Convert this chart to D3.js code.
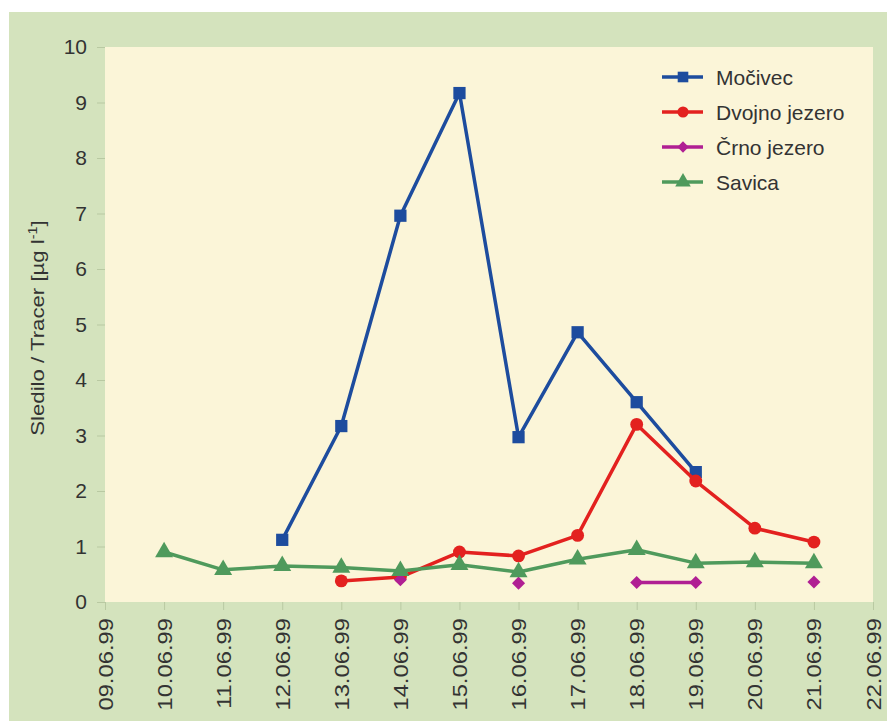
<!DOCTYPE html>
<html><head><meta charset="utf-8">
<script src="https://cdn.jsdelivr.net/npm/d3@7"></script>
<style>body{margin:0;background:#fff}svg{display:block}</style>
</head><body>
<svg id="c" width="887" height="721"></svg>
<script>
const dates = ["09.06.99","10.06.99","11.06.99","12.06.99","13.06.99","14.06.99","15.06.99","16.06.99","17.06.99","18.06.99","19.06.99","20.06.99","21.06.99","22.06.99"];
const seriesNames = ["Močivec","Dvojno jezero","Črno jezero","Savica"];
const mocivec = [null,null,null,1.12,3.17,6.96,9.17,2.97,4.86,3.6,2.34,null,null,null];
const dvojno  = [null,null,null,null,0.38,0.45,0.9,0.83,1.2,3.2,2.18,1.33,1.08,null];
const crno    = [null,null,null,null,null,0.4,null,0.34,null,0.35,0.35,null,0.36,null];
const savica  = [null,0.9,0.58,0.65,0.62,0.56,0.67,0.54,0.77,0.94,0.7,0.72,0.7,null];
const yTicks = [0,1,2,3,4,5,6,7,8,9,10];
const colors = ["#1d4c9e","#e3211f","#b01f93","#4f9a5c"];
const symbols = [d3.symbolSquare, d3.symbolCircle, d3.symbolSquare, d3.symbolTriangle];
const symRot = [0, 0, 45, 0];
const symSizes = [150, 130, 85, 140];

const svg = d3.select("#c");
const font = "'Liberation Sans', Arial, sans-serif";
svg.append("rect").attr("x",9).attr("y",12).attr("width",878).attr("height",709).attr("fill","#d4e3bd");

const m = {l:105, r:873, t:47, b:602};
const x = d3.scalePoint().domain(dates).range([m.l, m.r]);
const y = d3.scaleLinear().domain([0,10]).range([m.b, m.t]);

svg.append("rect").attr("x",m.l).attr("y",m.t).attr("width",m.r-m.l).attr("height",m.b-m.t).attr("fill","#fbf5d8");

// y axis
const ya = svg.append("g").attr("transform",`translate(${m.l},0)`)
  .call(d3.axisLeft(y).tickValues(yTicks).tickSize(8).tickPadding(10).tickFormat(d3.format("d")));
ya.select(".domain").remove();
ya.selectAll("line").attr("stroke","#b9c9a2");
ya.selectAll("text").attr("font-family",font).attr("font-size",21).attr("fill","#333");

// x axis
const xa = svg.append("g").attr("transform",`translate(0,${m.b})`)
  .call(d3.axisBottom(x).tickSize(8).tickPadding(6));
xa.select(".domain").remove();
xa.selectAll("line").attr("stroke","#b9c9a2");
xa.selectAll("text").attr("font-family",font).attr("font-size",19.5).attr("fill","#333")
  .attr("transform","rotate(-90) scale(1.22,1)").attr("text-anchor","end").attr("dy","0.36em")
  .attr("x",-16/1.22).attr("y",0);

// y title
const yt = svg.append("text").attr("transform","translate(44,328) rotate(-90) scale(1.2,1)")
  .attr("text-anchor","middle").attr("font-family",font).attr("font-size",18.5).attr("fill","#333");
yt.append("tspan").text("Sledilo / Tracer [µg l");
yt.append("tspan").attr("dy",-7).attr("font-size",12).text("-1");
yt.append("tspan").attr("dy",7).text("]");

const all = [mocivec, dvojno, crno, savica];
const line = d3.line().defined(d => d.v != null).x(d => x(d.d)).y(d => y(d.v));
all.forEach((arr, i) => {
  const data = arr.map((v, j) => ({d: dates[j], v}));
  svg.append("path").datum(data).attr("d", line).attr("fill","none")
    .attr("stroke", colors[i]).attr("stroke-width", 3.5).attr("stroke-linejoin","round");
  svg.append("g").selectAll("path").data(data.filter(d => d.v != null)).join("path")
    .attr("transform", d => `translate(${x(d.d)},${y(d.v)}) rotate(${symRot[i]})`)
    .attr("d", d3.symbol().type(symbols[i]).size(symSizes[i]))
    .attr("fill", colors[i]);
});

// legend
const lg = svg.append("g");
seriesNames.forEach((n, i) => {
  const ly = 77 + i*35;
  lg.append("line").attr("x1",662).attr("x2",703).attr("y1",ly).attr("y2",ly)
    .attr("stroke",colors[i]).attr("stroke-width",3.5);
  lg.append("path").attr("transform",`translate(683,${ly}) rotate(${symRot[i]})`)
    .attr("d", d3.symbol().type(symbols[i]).size(symSizes[i]*0.75)).attr("fill",colors[i]);
  lg.append("text").attr("x",716).attr("y",ly+1).attr("dy","0.35em")
    .attr("font-family",font).attr("font-size",21).attr("fill","#333").text(n);
});
</script>
</body></html>
